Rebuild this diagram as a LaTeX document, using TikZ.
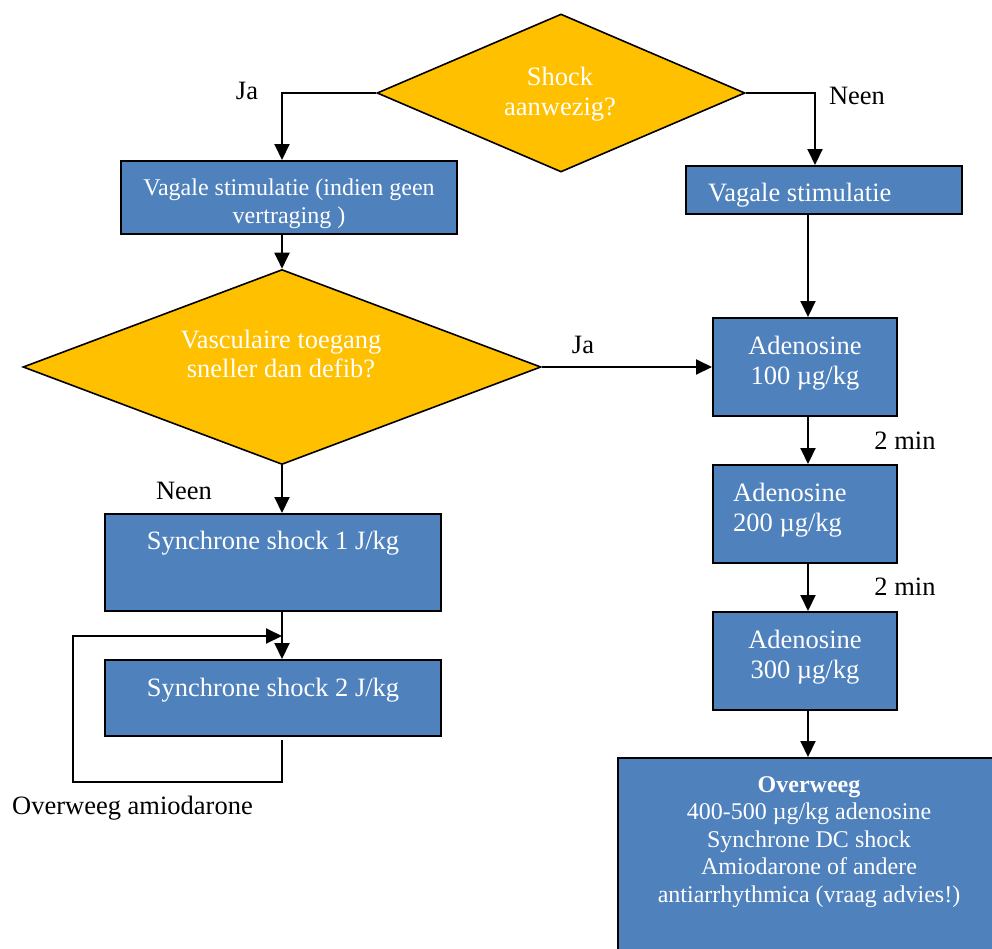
\documentclass[tikz,border=0pt]{standalone}
\usepackage{fontspec}
\setmainfont{Liberation Serif}
\usetikzlibrary{shapes.geometric,arrows.meta}
\definecolor{boxblue}{HTML}{4F81BD}
\definecolor{decyel}{HTML}{FFC000}
\begin{document}
\begin{tikzpicture}[x=1pt,y=-1pt,
 bx/.style={draw=black,line width=2pt,fill=boxblue,inner sep=0pt},
 dm/.style={diamond,draw=black,line width=1.6pt,fill=decyel,inner sep=0pt},
 wt/.style={text=white,font=\fontsize{26.5}{30}\selectfont,align=center,inner sep=0pt},
 ws/.style={text=white,font=\fontsize{24}{28}\selectfont,align=center,inner sep=0pt},
 bt/.style={text=black,font=\fontsize{26.5}{29}\selectfont,inner sep=0pt},
 arr/.style={line width=2pt,-{Triangle[length=16pt,width=15pt]}}]
\clip (0,0) rectangle (992,948);
\fill[white] (0,0) rectangle (992,948);
% decisions
\node[dm,minimum width=368pt,minimum height=158pt] (d1) at (561,93) {};
\node[wt] (d1t) at (560,94) {Shock\\aanwezig?};
\node[dm,minimum width=518pt,minimum height=195pt] (d2) at (282,367) {};
\node[wt,font=\fontsize{26.5}{28.5}\selectfont] (d2t) at (281,354) {Vasculaire toegang\\sneller dan defib?};
% boxes
\node[bx,minimum width=336pt,minimum height=73pt] (b1) at (289,197.5) {};
\node[ws] (b1t) at (289,204) {Vagale stimulatie (indien geen\\vertraging )};
\node[bx,minimum width=276pt,minimum height=48pt] (b2) at (824,190) {};
\node[wt,anchor=west] (b2t) at (708,195) {Vagale stimulatie};
\node[bx,minimum width=184pt,minimum height=98pt] (a1) at (805,367) {};
\node[wt] (a1t) at (805,363) {Adenosine\\100 µg/kg};
\node[bx,minimum width=184pt,minimum height=98pt] (a2) at (805,514) {};
\node[wt,anchor=west,align=left] (a2t) at (733,510) {Adenosine\\200 µg/kg};
\node[bx,minimum width=184pt,minimum height=98pt] (a3) at (805,661) {};
\node[wt] (a3t) at (805,657) {Adenosine\\300 µg/kg};
\node[bx,anchor=north west,minimum width=400pt,minimum height=220pt] (ov) at (617,757) {};
\node[ws,anchor=north,font=\fontsize{24}{27.5}\selectfont] (ovt) at (809,776) {\textbf{Overweeg}\\400-500 µg/kg adenosine\\Synchrone DC shock\\Amiodarone of andere\\antiarrhythmica (vraag advies!)};
\node[bx,minimum width=336pt,minimum height=97pt] (b3) at (273,562.5) {};
\node[wt] (b3t) at (273,543) {Synchrone shock 1 J/kg};
\node[bx,minimum width=336pt,minimum height=76pt] (b4) at (273,698) {};
\node[wt] (b4t) at (273,690) {Synchrone shock 2 J/kg};
% labels
\node[bt] (lja1) at (247,91) {Ja};
\node[bt] (lneen1) at (857,96) {Neen};
\node[bt] (lja2) at (583,345) {Ja};
\node[bt] (lneen2) at (184,491) {Neen};
\node[bt] (l2min1) at (905,441) {2 min};
\node[bt] (l2min2) at (905,587) {2 min};
\node[bt,anchor=west] (lamio) at (12,808) {Overweeg amiodarone};
% connectors
\draw[arr] (d1.west) -| ([xshift=-7pt]b1.north);
\draw[arr] (d1.east) -| ([xshift=-9pt]b2.north);
\draw[arr] ([xshift=3pt]a1.north |- b2.south) -- ([xshift=3pt]a1.north);
\draw[arr] ([xshift=-7pt]b1.south) -- (d2.north);
\draw[arr] (d2.east) -- (a1.west);
\draw[arr] (d2.south) -- (d2.south |- b3.north);
\draw[arr] ([xshift=9pt]b3.south) -- ([xshift=9pt]b4.north);
\draw[arr] ([xshift=3pt]a1.south) -- ([xshift=3pt]a2.north);
\draw[arr] ([xshift=3pt]a2.south) -- ([xshift=3pt]a3.north);
\draw[arr] ([xshift=3pt]a3.south) -- ([xshift=3pt]a3.south |- ov.north);
\coordinate (loopcorner) at (73,782);
\coordinate (loopend) at (282,636);
\draw[arr] ([xshift=9pt,yshift=-3pt]b4.south) |- (loopcorner) |- (loopend);
\end{tikzpicture}
\end{document}
